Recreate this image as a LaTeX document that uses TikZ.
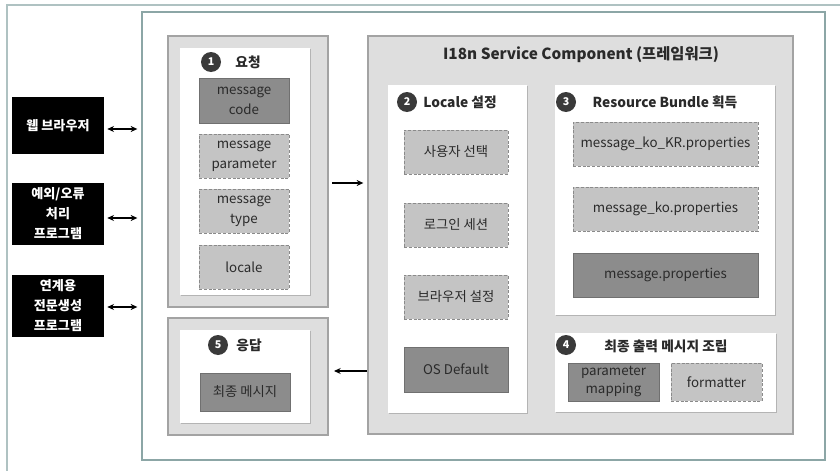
\documentclass[tikz,border=0pt]{standalone}
\usepackage{fontspec}
\setmainfont{Noto Sans CJK KR}
\usetikzlibrary{shadows,arrows.meta}
\definecolor{outerline}{HTML}{AFC2C2}
\definecolor{frameline}{HTML}{8CA6A6}
\definecolor{grpfill}{HTML}{DEDEDE}
\definecolor{grpline}{HTML}{A3A3A3}
\definecolor{darkfill}{HTML}{8C8C8C}
\definecolor{lightfill}{HTML}{C4C4C4}
\definecolor{dashline}{HTML}{8A8A8A}
\definecolor{numfill}{HTML}{3A3A3A}
\definecolor{txt}{HTML}{2A2A2A}
\begin{document}
\begin{tikzpicture}[x=0.75pt,y=-0.75pt,
  wh/.style 2 args={minimum width=#1*0.75pt, minimum height=#2*0.75pt},
  rect/.style={rectangle, inner sep=0pt, outer sep=0pt},
  grp/.style={rect, fill=grpfill, draw=grpline, line width=0.9pt},
  panel/.style={rect, fill=white, drop shadow={shadow xshift=0.9pt, shadow yshift=-0.9pt, fill=black!40, opacity=0.6}},
  boxtext/.style={text=txt, align=center, font=\fontsize{10}{15}\selectfont},
  darkbox/.style={rect, boxtext, fill=darkfill, draw=darkfill!80!black, line width=0.4pt},
  dashbox/.style={rect, boxtext, fill=lightfill, draw=dashline, dash pattern=on 2.2pt off 1.4pt, line width=0.7pt},
  blackbox/.style={rect, fill=black, text=white, align=center, font=\bfseries\fontsize{9.8}{15}\selectfont},
  num/.style={circle, fill=numfill, text=white, minimum size=20*0.75pt, inner sep=0pt, font=\bfseries\fontsize{8}{8}\selectfont},
  ptitle/.style={text=txt, inner sep=0pt, font=\bfseries\fontsize{10.3}{12}\selectfont},
  arr/.style={-{Stealth[length=5pt,width=4.5pt]}, line width=0.8pt},
  darr/.style={{Stealth[length=5pt,width=4.5pt]}-{Stealth[length=5pt,width=4.5pt]}, line width=0.8pt}
]
\useasboundingbox (0,0) rectangle (840,471);
% outer frame (only left and top edges visible)
\draw[outerline, line width=1.2pt] (7,471) -- (7,5) -- (840,5);
% inner frame
\node[rect, draw=frameline, fill=white, line width=1.3pt, wh={683}{448}] (frame) at (483.5,236) {};

% request group
\node[grp, wh={160}{271}] (reqg) at (248,171.5) {};
\node[panel, wh={130}{247}] (reqp) at (245,171.5) {};
\node[num] (n1) at (211,62) {1};
\node[ptitle] (reqt) at (248,62) {요청};
\node[darkbox, wh={90}{45}] (mcode) at (244,100.5) {message\\code};
\node[dashbox, wh={90}{44}] (mparam) at (244,156) {message\\parameter};
\node[dashbox, wh={90}{44}] (mtype) at (244,211) {message\\type};
\node[dashbox, wh={90}{44}] (mlocale) at (244,267) {locale};

% response group
\node[grp, wh={160}{117}] (resg) at (248,376.5) {};
\node[panel, wh={130}{93}] (resp) at (245,376.5) {};
\node[num] (n5) at (218,345) {5};
\node[ptitle] (rest) at (249,345) {응답};
\node[darkbox, wh={90}{38}] (final) at (245,392) {최종 메시지};

% I18n service component
\node[grp, wh={425}{398}] (i18n) at (580.5,235) {};
\node[text=txt, inner sep=0pt, font=\bfseries\fontsize{11.5}{13}\selectfont] (i18nt) at (581,55) {I18n Service Component (프레임워크)};

% locale panel
\node[panel, wh={139}{328}] (locp) at (457.5,249) {};
\node[num] (n2) at (407,102) {2};
\node[ptitle, anchor=west] (loct) at (423,102) {Locale 설정};
\node[dashbox, wh={104}{44}] (usersel) at (456,152) {사용자 선택};
\node[dashbox, wh={104}{44}] (login) at (456,225) {로그인 세션};
\node[dashbox, wh={104}{44}] (browser) at (456,297) {브라우저 설정};
\node[darkbox, wh={104}{45}] (osdef) at (456,369.5) {OS Default};

% resource bundle panel
\node[panel, wh={220}{230}] (rbp) at (665,200) {};
\node[num] (n3) at (566,102) {3};
\node[ptitle] (rbt) at (665,102) {Resource Bundle 획득};
\node[dashbox, wh={185}{44}] (kokr) at (665.5,144) {message\_ko\_KR.properties};
\node[dashbox, wh={185}{44}] (ko) at (665.5,209) {message\_ko.properties};
\node[darkbox, wh={185}{44}] (base) at (665.5,275) {message.properties};

% assemble panel
\node[panel, wh={221}{79}] (asmp) at (665.5,372.5) {};
\node[num] (n4) at (566,345) {4};
\node[ptitle] (asmt) at (666,346) {최종 출력 메시지 조립};
\node[darkbox, wh={91}{38}, font=\fontsize{10}{13.5}\selectfont] (pmap) at (613.5,382) {parameter\\mapping};
\node[dashbox, wh={91}{38}] (fmt) at (716.5,382) {formatter};

% external clients
\node[blackbox, wh={92}{57}] (web) at (58,125.5) {웹 브라우저};
\node[blackbox, wh={92}{62}] (err) at (58,214) {예외/오류\\처리\\프로그램};
\node[blackbox, wh={92}{62}] (link) at (58,306) {연계용\\전문생성\\프로그램};

% connectors
\coordinate (wa) at (104,129);
\coordinate (ea) at (104,218);
\coordinate (la) at (104,307);
\draw[darr, shorten <=2.5pt, shorten >=3.5pt] (wa) -- (wa -| frame.west);
\draw[darr, shorten <=2.5pt, shorten >=3.5pt] (ea) -- (ea -| frame.west);
\draw[darr, shorten <=2.5pt, shorten >=3.5pt] (la) -- (la -| frame.west);
\coordinate (ra) at (328,183);
\draw[arr, shorten <=3pt, shorten >=3.5pt] (ra) -- (ra -| i18n.west);
\coordinate (sa) at (368,371);
\draw[arr, shorten <=1pt, shorten >=4.5pt] (sa) -- (sa -| resg.east);
\end{tikzpicture}
\end{document}
